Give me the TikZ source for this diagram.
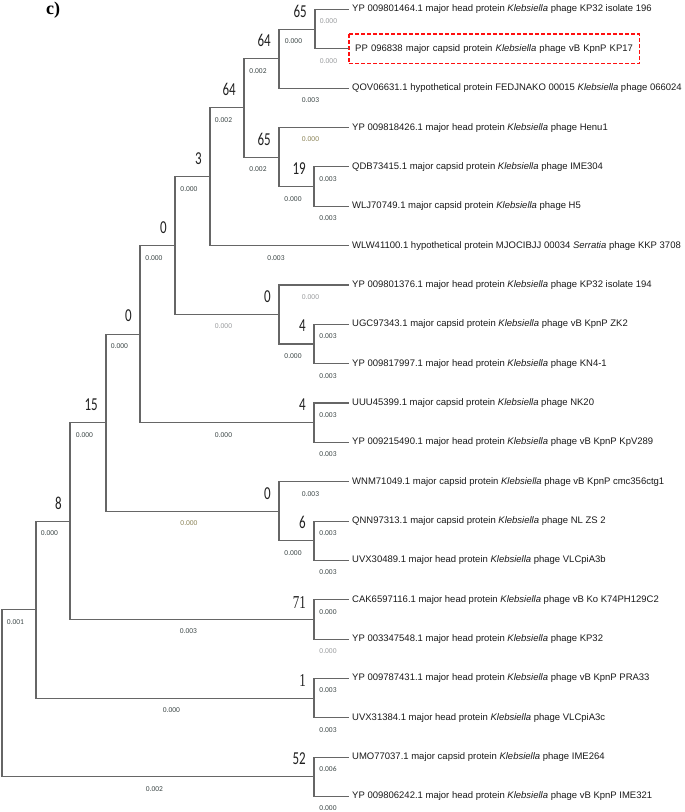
\documentclass[tikz,border=0pt]{standalone}
\usepackage{fontspec}
\usepackage{graphicx}
\setmainfont{Liberation Sans}
\newfontfamily\bsfont{Carlito}
\newfontfamily\serfont{Liberation Serif}
\usetikzlibrary{calc}
\definecolor{brc}{HTML}{666666}
\definecolor{leafc}{HTML}{1A1A1A}
\definecolor{bsc}{HTML}{202020}
\definecolor{blc}{HTML}{3E4848}
\definecolor{blgrey}{HTML}{9A9C9E}
\definecolor{blol}{HTML}{8C8458}
\definecolor{hired}{HTML}{FF1010}
\tikzset{
  br/.style={draw=brc, line width=1.1pt},
  leaf/.style={anchor=west, inner xsep=3pt, inner ysep=1pt, font=\fontsize{9.5}{11}\selectfont, text=leafc},
  bs/.style={anchor=east, inner sep=0pt, font=\bsfont\fontsize{13}{13}\selectfont, text=bsc},
  bsser/.style={bs, font=\serfont\fontsize{13}{13}\selectfont},
  bl/.style={inner sep=0pt, font=\bsfont\fontsize{7.5}{8}\selectfont, text=blc},
  bllight/.style={bl, text=blgrey},
  blolive/.style={bl, text=blol},
  hilite/.style={draw=hired, dash pattern=on 4pt off 2pt, line width=1.5pt},
}
\newcommand{\tallnum}[1]{\scalebox{1}[1.4]{#1}}
\newcommand{\kl}{\textit{Klebsiella}}
\begin{document}
\begin{tikzpicture}[x=1pt,y=-1pt]
\useasboundingbox (0,0) rectangle (685,812);
% title
\node[font=\serfont\bfseries\fontsize{18}{18}\selectfont, inner sep=0pt] (title) at (53,10) {c)};
% internal nodes
\coordinate (root) at (2,693.2);
\coordinate (n36)  at (36,609.59);
\coordinate (n52)  at (314,776.825);
\coordinate (n8)   at (70,521.05);
\coordinate (n1)   at (314,698.125);
\coordinate (n15)  at (106,422.675);
\coordinate (n71)  at (314,619.425);
\coordinate (n0l)  at (140,334.14);
\coordinate (n0c)  at (279,511.21);
\coordinate (n6)   at (314,540.725);
\coordinate (n0u)  at (175,245.6);
\coordinate (n4b)  at (314,422.675);
\coordinate (n3)   at (210,176.74);
\coordinate (n0b)  at (279,314.46);
\coordinate (n4a)  at (314,343.975);
\coordinate (n64b) at (244,107.875);
\coordinate (n64a) at (279,58.69);
\coordinate (n65a) at (315,29.175);
\coordinate (n65b) at (279,157.06);
\coordinate (n19)  at (314,186.575);
% leaves
\node[leaf] (l1) at (349,9.5) {YP 009801464.1 major head protein \kl{} phage KP32 isolate 196};
\node[leaf, inner xsep=6pt, text width=278pt, minimum height=29pt, align=left] (l2) at (349,48.85) {PP 096838 major capsid protein \kl{} phage vB KpnP KP17};
\node[leaf] (l3) at (349,88.2) {QOV06631.1 hypothetical protein FEDJNAKO 00015 \kl{} phage 066024};
\node[leaf] (l4) at (349,127.55) {YP 009818426.1 major head protein \kl{} phage Henu1};
\node[leaf] (l5) at (349,166.9) {QDB73415.1 major capsid protein \kl{} phage IME304};
\node[leaf] (l6) at (349,206.25) {WLJ70749.1 major capsid protein \kl{} phage H5};
\node[leaf] (l7) at (349,245.6) {WLW41100.1 hypothetical protein MJOCIBJJ 00034 \textit{Serratia} phage KKP 3708};
\node[leaf] (l8) at (349,284.95) {YP 009801376.1 major head protein \kl{} phage KP32 isolate 194};
\node[leaf] (l9) at (349,324.3) {UGC97343.1 major capsid protein \kl{} phage vB KpnP ZK2};
\node[leaf] (l10) at (349,363.65) {YP 009817997.1 major head protein \kl{} phage KN4-1};
\node[leaf] (l11) at (349,403.0) {UUU45399.1 major capsid protein \kl{} phage NK20};
\node[leaf] (l12) at (349,442.35) {YP 009215490.1 major head protein \kl{} phage vB KpnP KpV289};
\node[leaf] (l13) at (349,481.7) {WNM71049.1 major capsid protein \kl{} phage vB KpnP cmc356ctg1};
\node[leaf] (l14) at (349,521.05) {QNN97313.1 major capsid protein \kl{} phage NL ZS 2};
\node[leaf] (l15) at (349,560.4) {UVX30489.1 major head protein \kl{} phage VLCpiA3b};
\node[leaf] (l16) at (349,599.75) {CAK6597116.1 major head protein \kl{} phage vB Ko K74PH129C2};
\node[leaf] (l17) at (349,639.1) {YP 003347548.1 major head protein \kl{} phage KP32};
\node[leaf] (l18) at (349,678.45) {YP 009787431.1 major head protein \kl{} phage vB KpnP PRA33};
\node[leaf] (l19) at (349,717.8) {UVX31384.1 major head protein \kl{} phage VLCpiA3c};
\node[leaf] (l20) at (349,757.15) {UMO77037.1 major capsid protein \kl{} phage IME264};
\node[leaf] (l21) at (349,796.5) {YP 009806242.1 major head protein \kl{} phage vB KpnP IME321};
% highlight box around the new sequence
\draw[hilite] (l2.north west) -- (l2.north east) -- (l2.south east) -- (l2.south west) -- cycle;
% branches
\draw[br] (root) |- (n36);
\draw[br] (root) |- (n52);
\draw[br] (n36) |- (n8);
\draw[br] (n36) |- (n1);
\draw[br] (n8) |- (n15);
\draw[br] (n8) |- (n71);
\draw[br] (n15) |- (n0l);
\draw[br] (n15) |- (n0c);
\draw[br] (n0l) |- (n0u);
\draw[br] (n0l) |- (n4b);
\draw[br] (n0u) |- (n3);
\draw[br] (n0u) |- (n0b);
\draw[br] (n3) |- (n64b);
\draw[br] (n3) |- (l7.west);
\draw[br] (n64b) |- (n64a);
\draw[br] (n64b) |- (n65b);
\draw[br] (n64a) |- (n65a);
\draw[br] (n64a) |- (l3.west);
\draw[br] (n65a) |- (l1.west);
\draw[br] (n65a) |- (l2.west);
\draw[br] (n65b) |- (l4.west);
\draw[br] (n65b) |- (n19);
\draw[br] (n19) |- (l5.west);
\draw[br] (n19) |- (l6.west);
\draw[br] (n0b) |- (l8.west);
\draw[br] (n0b) |- (n4a);
\draw[br] (n4a) |- (l9.west);
\draw[br] (n4a) |- (l10.west);
\draw[br] (n4b) |- (l11.west);
\draw[br] (n4b) |- (l12.west);
\draw[br] (n0c) |- (l13.west);
\draw[br] (n0c) |- (n6);
\draw[br] (n6) |- (l14.west);
\draw[br] (n6) |- (l15.west);
\draw[br] (n71) |- (l16.west);
\draw[br] (n71) |- (l17.west);
\draw[br] (n1) |- (l18.west);
\draw[br] (n1) |- (l19.west);
\draw[br] (n52) |- (l20.west);
\draw[br] (n52) |- (l21.west);
% bootstrap values
\node[bs] (s65a) at ($(n65a)+(-8,-18)$) {\tallnum{65}};
\node[bs] (s64a) at ($(n64a)+(-8,-18)$) {\tallnum{64}};
\node[bs] (s64b) at ($(n64b)+(-8,-18)$) {\tallnum{64}};
\node[bs] (s65b) at ($(n65b)+(-8,-18)$) {\tallnum{65}};
\node[bs] (s19)  at ($(n19)+(-8,-18)$) {\tallnum{19}};
\node[bs] (s3)   at ($(n3)+(-8,-18)$) {\tallnum{3}};
\node[bs] (s0u)  at ($(n0u)+(-8,-18)$) {\tallnum{0}};
\node[bs] (s0b)  at ($(n0b)+(-8,-18)$) {\tallnum{0}};
\node[bs] (s4a)  at ($(n4a)+(-8,-18)$) {\tallnum{4}};
\node[bs] (s0l)  at ($(n0l)+(-8,-18)$) {\tallnum{0}};
\node[bs] (s4b)  at ($(n4b)+(-8,-18)$) {\tallnum{4}};
\node[bs] (s15)  at ($(n15)+(-8,-18)$) {\tallnum{15}};
\node[bs] (s0c)  at ($(n0c)+(-8,-18)$) {\tallnum{0}};
\node[bs] (s6)   at ($(n6)+(-8,-18)$) {\tallnum{6}};
\node[bs] (s8)   at ($(n8)+(-8,-18)$) {\tallnum{8}};
\node[bsser] (s71) at ($(n71)+(-8,-17)$) {\tallnum{71}};
\node[bsser] (s1)  at ($(n1)+(-8,-18)$) {\tallnum{1}};
\node[bs] (s52)  at ($(n52)+(-8,-18)$) {\tallnum{52}};
% branch lengths: leaves
\node[bllight] (d1)  at (328.5,21.5) {0.000};
\node[bllight] (d2)  at (328.5,61) {0.000};
\node[bl]      (d3)  at (310.5,100) {0.003};
\node[blolive] (d4)  at (310.5,139.5) {0.000};
\node[bl]      (d5)  at (328,179) {0.003};
\node[bl]      (d6)  at (328,218) {0.003};
\node[bl]      (d7)  at (276,257.6) {0.003};
\node[bllight] (d8)  at (310.5,297) {0.000};
\node[bl]      (d9)  at (328,336) {0.003};
\node[bl]      (d10) at (328,375.6) {0.003};
\node[bl]      (d11) at (328,415) {0.003};
\node[bl]      (d12) at (328,454.3) {0.003};
\node[bl]      (d13) at (310.5,493.7) {0.003};
\node[bl]      (d14) at (328,533) {0.003};
\node[bl]      (d15) at (328,572.4) {0.003};
\node[bl]      (d16) at (328,611.7) {0.000};
\node[bllight] (d17) at (328,651) {0.000};
\node[bl]      (d18) at (328,690.4) {0.003};
\node[bl]      (d19) at (328,729.8) {0.003};
\node[bl]      (d20) at (328,769) {0.006};
\node[bl]      (d21) at (328,808.5) {0.000};
% branch lengths: internal
\node[bl]      (e65a) at (293.5,41.2) {0.000};
\node[bl]      (e64a) at (258,70.7) {0.002};
\node[bl]      (e64b) at (223.5,120) {0.002};
\node[bl]      (e65b) at (258,169) {0.002};
\node[bl]      (e19)  at (293,198.6) {0.000};
\node[bl]      (e3)   at (189,188.7) {0.000};
\node[bl]      (e0u)  at (154,257.6) {0.000};
\node[bllight] (e0b)  at (223.5,326.5) {0.000};
\node[bl]      (e4a)  at (293,356) {0.000};
\node[bl]      (e0l)  at (119.5,346) {0.000};
\node[bl]      (e4b)  at (223.5,434.7) {0.000};
\node[bl]      (e15)  at (84.5,434.7) {0.000};
\node[blolive] (e0c)  at (189,523) {0.000};
\node[bl]      (e6)   at (293,552.7) {0.000};
\node[bl]      (e8)   at (49.5,533) {0.000};
\node[bl]      (e71)  at (188.5,631.4) {0.003};
\node[bl]      (e1)   at (171.5,710) {0.000};
\node[bl]      (e36)  at (15.5,621.6) {0.001};
\node[bl]      (e52)  at (154.5,788.8) {0.002};
\end{tikzpicture}
\end{document}
